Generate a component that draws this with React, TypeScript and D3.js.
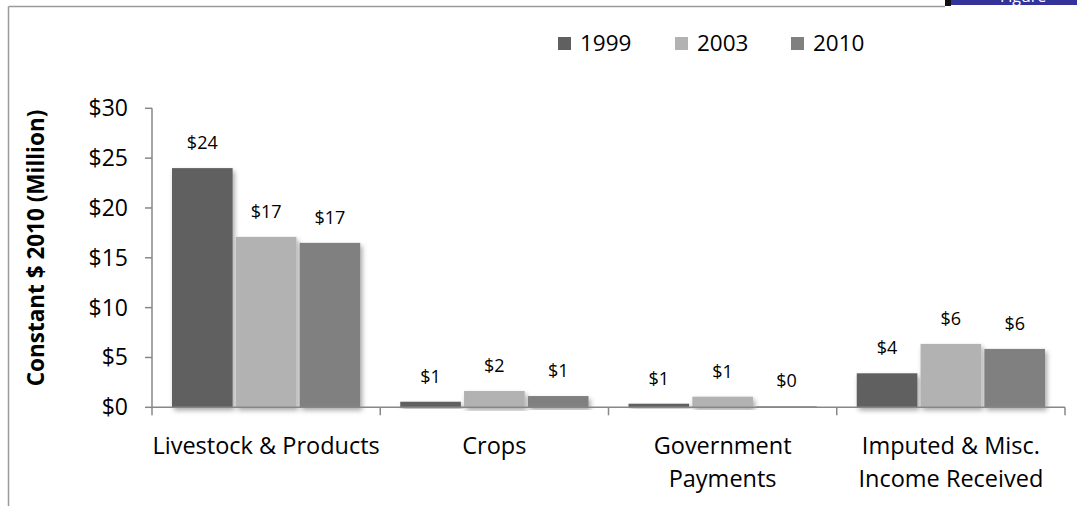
import React from "react";
import * as d3 from "d3";

const categories = ["Livestock & Products", "Crops", "Government Payments", "Imputed & Misc. Income Received"];
const categoryLines = [["Livestock & Products"], ["Crops"], ["Government", "Payments"], ["Imputed & Misc.", "Income Received"]];
const seriesNames = ["1999", "2003", "2010"];
const values1999 = [24.0, 0.56, 0.36, 3.41];
const values2003 = [17.1, 1.64, 1.07, 6.36];
const values2010 = [16.5, 1.13, 0.1, 5.86];
const valueLabels1999 = ["$24", "$1", "$1", "$4"];
const valueLabels2003 = ["$17", "$2", "$1", "$6"];
const valueLabels2010 = ["$17", "$1", "$0", "$6"];
const yTicks = [0, 5, 10, 15, 20, 25, 30];
const colors = ["#606060", "#b2b2b2", "#808080"];

const W = 1077;
const H = 506;
const FONT = "'Open Sans', 'Noto Sans', sans-serif";

export default function App() {
  const series = [values1999, values2003, values2010];
  const labels = [valueLabels1999, valueLabels2003, valueLabels2010];
  const left = 152, right = 1065, top = 108.3, bottom = 407.3;
  const x = d3.scaleBand<string>().domain(categories).range([left, right]).padding(0);
  const inner = d3.scaleBand<string>().domain(seriesNames).range([20, x.bandwidth() - 20]).paddingInner(0.05).paddingOuter(0);
  const y = d3.scaleLinear().domain([0, 30]).range([bottom, top]);
  const axisColor = "#878787";
  const boundaries = categories.map((c) => x(c)!).concat([right]);

  return (
    <svg width={W} height={H} style={{ position: "absolute", left: 0, top: 0, background: "#fff" }} fontFamily={FONT}>
      <defs>
        <filter id="sh" x="-20%" y="-20%" width="140%" height="140%">
          <feDropShadow dx="2" dy="3" stdDeviation="2.5" floodColor="#000" floodOpacity="0.35" />
        </filter>
      </defs>
      {/* frame */}
      <line x1={8.5} y1={6.5} x2={945} y2={6.5} stroke="#9a9a9a" strokeWidth={1.5} />
      <line x1={8.5} y1={6.5} x2={8.5} y2={H} stroke="#9a9a9a" strokeWidth={1.5} />
      <rect x={945} y={0} width={6} height={6} fill="#111" />
      <rect x={951} y={0} width={W - 951} height={5} fill="#333399" />
      <text x={1000} y={2} fill="#fff" fontSize={16}>Figure</text>

      {/* legend */}
      {seriesNames.map((s, i) => {
        const lx = [558, 675, 791][i];
        return (
          <g key={s}>
            <rect x={lx} y={37} width={13} height={13} fill={colors[i]} />
            <text x={lx + 22} y={51} fontSize={22.5} fill="#000">{s}</text>
          </g>
        );
      })}

      {/* y axis title */}
      <text transform={`translate(44,248) rotate(-90)`} textAnchor="middle" fontSize={22.5} fontWeight="bold" fill="#000">
        Constant $ 2010 (Million)
      </text>

      {/* bars */}
      {categories.map((c, ci) => (
        <g key={c}>
          {series.map((vals, si) => {
            const bx = x(c)! + inner(seriesNames[si])!;
            const by = y(vals[ci]);
            return (
              <g key={si}>
                <rect x={bx} y={by} width={inner.bandwidth()} height={bottom - by} fill={colors[si]} filter="url(#sh)" />
                <text x={bx + inner.bandwidth() / 2} y={by - 19} textAnchor="middle" fontSize={18} fill="#000">
                  {labels[si][ci]}
                </text>
              </g>
            );
          })}
        </g>
      ))}

      {/* axes */}
      <line x1={left} y1={top} x2={left} y2={bottom} stroke={axisColor} strokeWidth={1.5} />
      <line x1={left} y1={bottom} x2={right} y2={bottom} stroke={axisColor} strokeWidth={1.5} />
      {yTicks.map((t) => (
        <g key={t}>
          <line x1={left - 7} y1={y(t)} x2={left} y2={y(t)} stroke={axisColor} strokeWidth={1.5} />
          <text x={128} y={y(t) + 8} textAnchor="end" fontSize={23} fill="#000">{`$${t}`}</text>
        </g>
      ))}
      {boundaries.map((bx, i) => (
        <line key={i} x1={bx} y1={bottom} x2={bx} y2={bottom + 8} stroke={axisColor} strokeWidth={1.5} />
      ))}
      {categories.map((c, ci) => (
        <text key={c} textAnchor="middle" fontSize={23.5} fill="#000">
          {categoryLines[ci].map((ln, li) => (
            <tspan key={li} x={x(c)! + x.bandwidth() / 2} y={454 + li * 33}>{ln}</tspan>
          ))}
        </text>
      ))}
    </svg>
  );
}
